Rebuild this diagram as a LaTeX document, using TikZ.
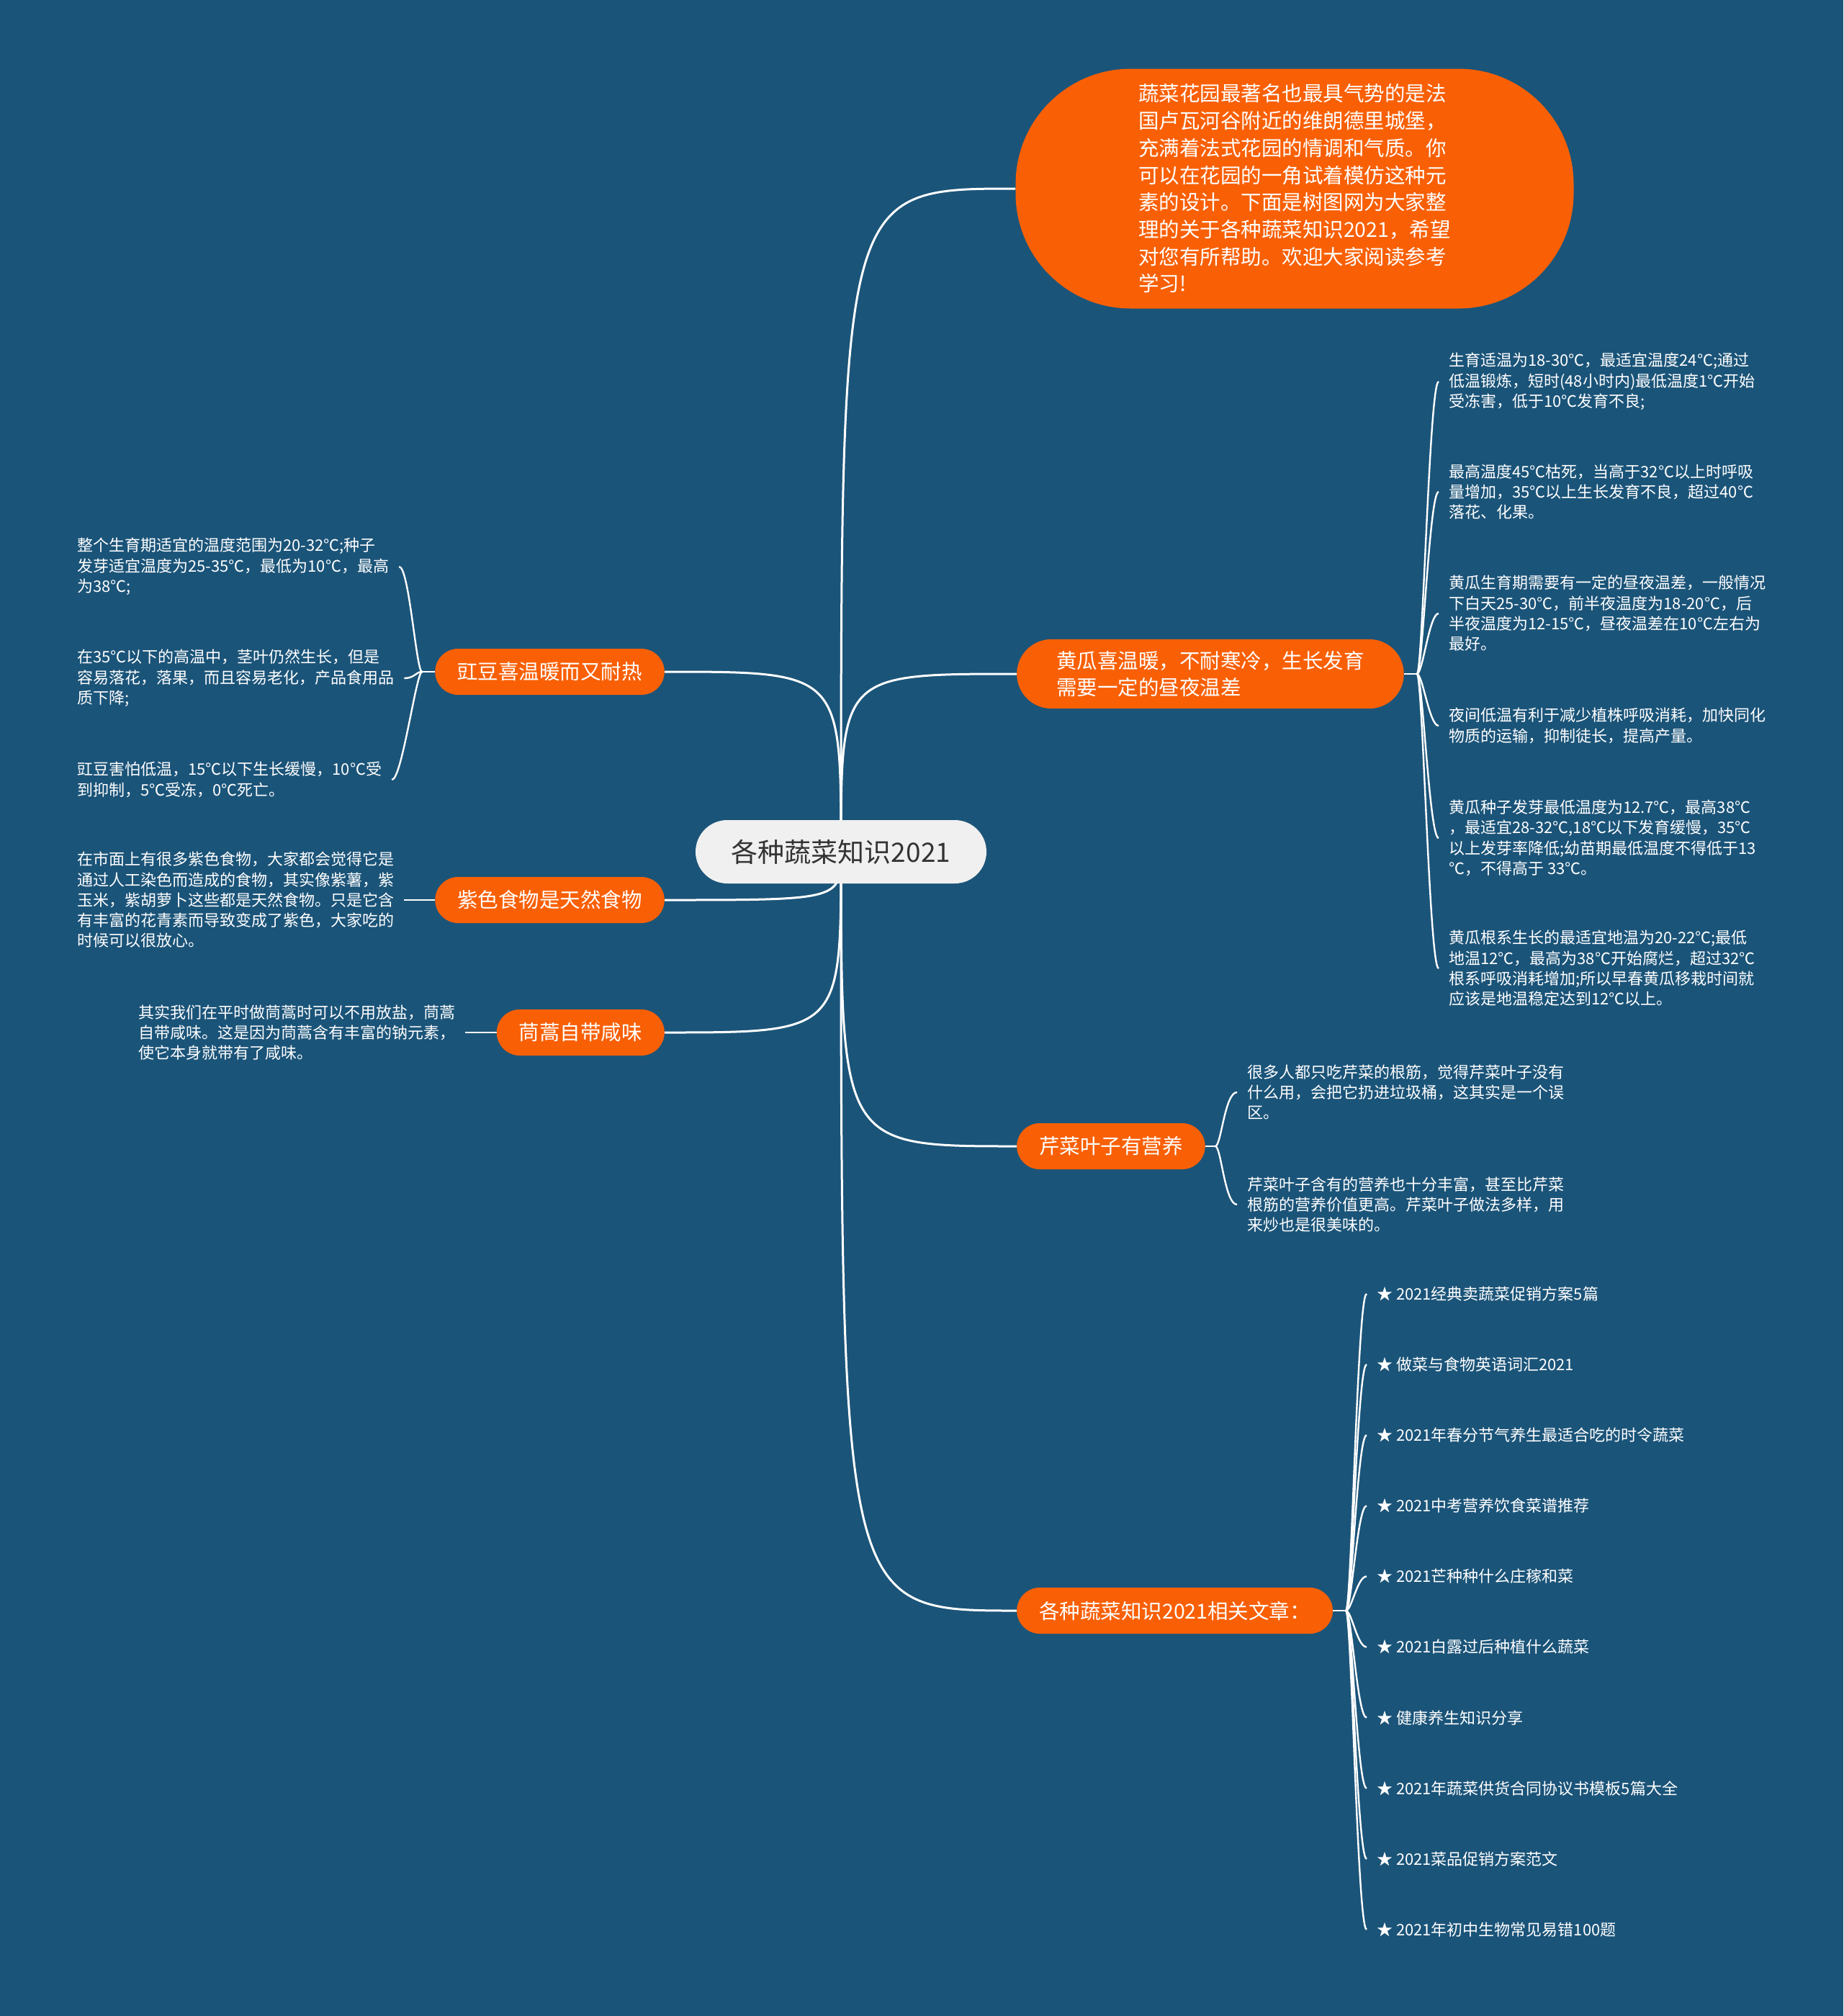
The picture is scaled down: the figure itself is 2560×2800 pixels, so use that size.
\documentclass[tikz,border=0pt]{standalone}
\usepackage{fontspec}
\newfontfamily\cjkfont{Noto Sans CJK SC}
\usetikzlibrary{backgrounds}
\definecolor{bgblue}{RGB}{27,84,121}
\definecolor{veggie}{RGB}{249,96,6}
\definecolor{rootgray}{RGB}{240,240,240}
\definecolor{rootink}{RGB}{51,51,51}

\begin{document}
\begin{tikzpicture}[x=1pt,y=-1pt,
    root/.style={fill=rootgray,text=rootink,rounded corners=44pt,minimum width=404pt,minimum height=88pt,font=\cjkfont\fontsize{37}{44}\selectfont},
    topic/.style={fill=veggie,text=white,rounded corners=32pt,minimum height=64pt,inner xsep=31pt,inner ysep=16pt,align=left,font=\cjkfont\fontsize{28.5}{37.7}\selectfont},
    leaf/.style={text=white,align=left,inner xsep=14pt,inner ysep=0pt,font=\cjkfont\fontsize{22}{28.3}\selectfont},
    branch/.style={draw=white,line width=3pt},
    twig/.style={draw=white,line width=2.4pt}]
    \useasboundingbox (0,0) rectangle (2560,2800);

    \node[root] (root) at (1168,1183) {各种蔬菜知识2021};

    \node[topic,minimum width=775pt,minimum height=333pt,rounded corners=160pt,inner ysep=20pt] (intro) at (1798,262)
        {蔬菜花园最著名也最具气势的是法\\国卢瓦河谷附近的维朗德里城堡，\\充满着法式花园的情调和气质。你\\可以在花园的一角试着模仿这种元\\素的设计。下面是树图网为大家整\\理的关于各种蔬菜知识2021，希望\\对您有所帮助。欢迎大家阅读参考\\学习!};
    \node[topic,anchor=west,inner xsep=55pt,rounded corners=48pt] (cucumber) at (1412,936) {黄瓜喜温暖，不耐寒冷，生长发育\\需要一定的昼夜温差};
    \node[topic,anchor=west] (celery) at (1412,1592) {芹菜叶子有营养};
    \node[topic,anchor=west] (related) at (1412,2237) {各种蔬菜知识2021相关文章：};
    \node[topic,anchor=east] (bean) at (923,933) {豇豆喜温暖而又耐热};
    \node[topic,anchor=east] (purple) at (923,1250) {紫色食物是天然食物};
    \node[topic,anchor=east] (crown) at (923,1434) {茼蒿自带咸味};

    \node[leaf,anchor=west] (cuc1) at (1998,530) {生育适温为18-30℃，最适宜温度24℃;通过\\低温锻炼，短时(48小时内)最低温度1℃开始\\受冻害，低于10℃发育不良;};
    \node[leaf,anchor=west] (cuc2) at (1998,683) {最高温度45℃枯死，当高于32℃以上时呼吸\\量增加，35℃以上生长发育不良，超过40℃\\落花、化果。};
    \node[leaf,anchor=west] (cuc3) at (1998,852) {黄瓜生育期需要有一定的昼夜温差，一般情况\\下白天25-30℃，前半夜温度为18-20℃，后\\半夜温度为12-15℃，昼夜温差在10℃左右为\\最好。};
    \node[leaf,anchor=west] (cuc4) at (1998,1008) {夜间低温有利于减少植株呼吸消耗，加快同化\\物质的运输，抑制徒长，提高产量。};
    \node[leaf,anchor=west] (cuc5) at (1998,1164) {黄瓜种子发芽最低温度为12.7℃，最高38℃\\，最适宜28-32℃,18℃以下发育缓慢，35℃\\以上发芽率降低;幼苗期最低温度不得低于13\\℃，不得高于 33℃。};
    \node[leaf,anchor=west] (cuc6) at (1998,1345) {黄瓜根系生长的最适宜地温为20-22℃;最低\\地温12℃，最高为38℃开始腐烂，超过32℃\\根系呼吸消耗增加;所以早春黄瓜移栽时间就\\应该是地温稳定达到12℃以上。};

    \node[leaf,anchor=west] (cel1) at (1718,1517) {很多人都只吃芹菜的根筋，觉得芹菜叶子没有\\什么用，会把它扔进垃圾桶，这其实是一个误\\区。};
    \node[leaf,anchor=west] (cel2) at (1718,1673) {芹菜叶子含有的营养也十分丰富，甚至比芹菜\\根筋的营养价值更高。芹菜叶子做法多样，用\\来炒也是很美味的。};

    \foreach \txt [count=\k] in {2021经典卖蔬菜促销方案5篇,做菜与食物英语词汇2021,2021年春分节气养生最适合吃的时令蔬菜,2021中考营养饮食菜谱推荐,2021芒种种什么庄稼和菜,2021白露过后种植什么蔬菜,健康养生知识分享,2021年蔬菜供货合同协议书模板5篇大全,2021菜品促销方案范文,2021年初中生物常见易错100题}
        \node[leaf,anchor=west] (art\k) at (1898,{1797+98.1*(\k-1)}) {★ \txt};

    \node[leaf,anchor=west] (bean1) at (93,787) {整个生育期适宜的温度范围为20-32℃;种子\\发芽适宜温度为25-35℃，最低为10℃，最高\\为38℃;};
    \node[leaf,anchor=west] (bean2) at (93,942) {在35℃以下的高温中，茎叶仍然生长，但是\\容易落花，落果，而且容易老化，产品食用品\\质下降;};
    \node[leaf,anchor=west] (bean3) at (93,1083) {豇豆害怕低温，15℃以下生长缓慢，10℃受\\到抑制，5℃受冻，0℃死亡。};
    \node[leaf,anchor=west] (purple1) at (93,1250) {在市面上有很多紫色食物，大家都会觉得它是\\通过人工染色而造成的食物，其实像紫薯，紫\\玉米，紫胡萝卜这些都是天然食物。只是它含\\有丰富的花青素而导致变成了紫色，大家吃的\\时候可以很放心。};
    \node[leaf,anchor=west] (crown1) at (178,1434) {其实我们在平时做茼蒿时可以不用放盐，茼蒿\\自带咸味。这是因为茼蒿含有丰富的钠元素，\\使它本身就带有了咸味。};

    \begin{scope}[on background layer]
        \fill[bgblue] (0,0) rectangle (2560,2800);
        \foreach \n in {intro,cucumber,celery,related}
            \draw[branch] (root.center) .. controls (root.center |- \n.west) .. (\n.west);
        \foreach \n in {bean,purple,crown}
            \draw[branch] (root.center) .. controls (root.center |- \n.east) .. (\n.east);

        \draw[twig] (cucumber.east) -- ++(18,0) coordinate (hubC);
        \foreach \k in {1,...,6}
            \draw[twig] (hubC) .. controls +(8,0) and +(-13,0) .. (cuc\k.west);
        \draw[twig] (celery.east) -- ++(14,0) coordinate (hubS);
        \foreach \k in {1,2}
            \draw[twig] (hubS) .. controls +(8,0) and +(-17,0) .. (cel\k.west);
        \draw[twig] (related.east) -- ++(18,0) coordinate (hubR);
        \foreach \k in {1,...,10}
            \draw[twig] (hubR) .. controls +(8,0) and +(-13,0) .. (art\k.west);
        \draw[twig] (bean.west) -- ++(-18,0) coordinate (hubB);
        \foreach \k in {1,2,3}
            \draw[twig] (hubB) .. controls +(-8,0) and +(14,0) .. (bean\k.east);
        \draw[twig] (purple1.east) -- (purple.west);
        \draw[twig] (crown1.east) -- (crown.west);
    \end{scope}
\end{tikzpicture}
\end{document}
